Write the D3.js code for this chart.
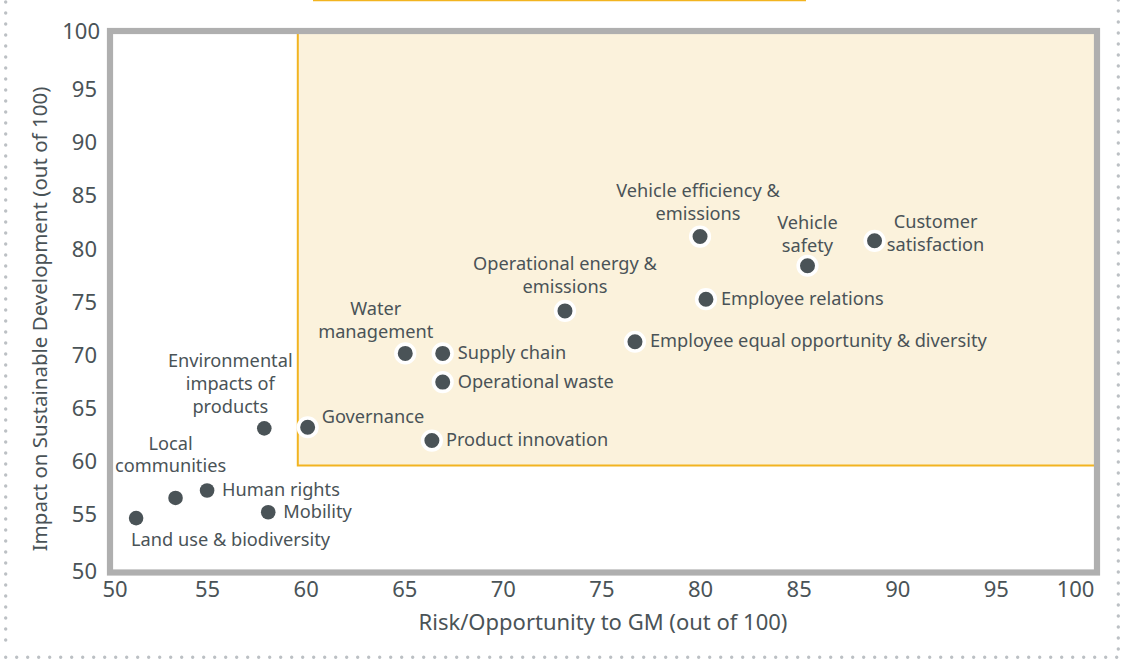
<!DOCTYPE html>
<html>
<head>
<meta charset="utf-8">
<script src="https://cdn.jsdelivr.net/npm/d3@7/dist/d3.min.js"></script>
<style>
  html, body { margin: 0; padding: 0; background: #ffffff; }
  svg { display: block; }
  text { font-family: "Noto Sans", "Open Sans", sans-serif; fill: #4a5357; }
</style>
</head>
<body>
<svg id="chart" width="1124" height="662"></svg>
<script>
// ---- data ----
const topics = [
  "Land use & biodiversity",
  "Local\ncommunities",
  "Human rights",
  "Mobility",
  "Environmental\nimpacts of\nproducts",
  "Governance",
  "Product innovation",
  "Operational waste",
  "Supply chain",
  "Water\nmanagement",
  "Operational energy &\nemissions",
  "Employee equal opportunity & diversity",
  "Employee relations",
  "Vehicle efficiency &\nemissions",
  "Vehicle\nsafety",
  "Customer\nsatisfaction"
];
const riskScores   = [51.4, 53.4, 55.0, 58.1, 57.9, 60.1, 66.4, 66.95, 66.95, 65.05, 73.15, 76.7, 80.3, 80.0, 85.45, 88.85];
const impactScores = [54.6, 56.5, 57.2, 55.15, 63.05, 63.15, 61.9, 67.4, 70.1, 70.1, 74.1, 71.2, 75.2, 81.1, 78.35, 80.7];
const xTicks = [50, 55, 60, 65, 70, 75, 80, 85, 90, 95, 100];
const yTicks = [50, 55, 60, 65, 70, 75, 80, 85, 90, 95, 100];
const highlightFrom = { risk: 59.6, impact: 59.55 };
const xTitle = "Risk/Opportunity to GM (out of 100)";
const yTitle = "Impact on Sustainable Development (out of 100)";

// ---- label placement (layout only) ----
const labelPlacement = [
  { anchor: "start",  dx: -5,  dy: 27.4 },
  { anchor: "middle", dx: -5,  dy: -48.4 },
  { anchor: "start",  dx: 15,  dy: 5.5 },
  { anchor: "start",  dx: 15,  dy: 5.8 },
  { anchor: "middle", dx: -34, dy: -61 },
  { anchor: "start",  dx: 14,  dy: -4.6 },
  { anchor: "start",  dx: 14,  dy: 5 },
  { anchor: "start",  dx: 15,  dy: 6 },
  { anchor: "start",  dx: 15,  dy: 5.7 },
  { anchor: "middle", dx: -29.5, dy: -38.3 },
  { anchor: "middle", dx: 0,   dy: -40.7 },
  { anchor: "start",  dx: 15,  dy: 5 },
  { anchor: "start",  dx: 15,  dy: 6 },
  { anchor: "middle", dx: -2,  dy: -39.4 },
  { anchor: "middle", dx: 0,   dy: -36.4 },
  { anchor: "middle", dx: 61,  dy: -12.4 }
];

const svg = d3.select("#chart");

const x = d3.scaleLinear().domain([50, 100]).range([108.5, 1094.4]);
const y = d3.scaleLinear().domain([50, 100]).range([567, 35.7]);

const colors = {
  frame: "#afafaf",
  fill: "#fbf2dc",
  orange: "#f2b420",
  dot: "#4a5357",
  dots: "#bcc0c4"
};

// decorative dotted page border
const dotted = svg.append("g")
  .attr("stroke", colors.dots)
  .attr("stroke-width", 3.4)
  .attr("stroke-linecap", "round")
  .attr("stroke-dasharray", "0 11");
dotted.append("line").attr("x1", 5.7).attr("y1", 2).attr("x2", 5.7).attr("y2", 645);
dotted.append("line").attr("x1", 1118.3).attr("y1", 0).attr("x2", 1118.3).attr("y2", 658);
dotted.append("line").attr("x1", 5.7).attr("y1", 657.3).attr("x2", 1118.3).attr("y2", 657.3);

// top partial orange rule
svg.append("line")
  .attr("x1", 313).attr("x2", 806).attr("y1", 0).attr("y2", 0)
  .attr("stroke", colors.orange).attr("stroke-width", 2.4);

// highlight region
const hx = x(highlightFrom.risk), hy = y(highlightFrom.impact);
svg.append("rect")
  .attr("x", hx).attr("y", y(100) - 3)
  .attr("width", x(100) - hx).attr("height", hy - y(100) + 3)
  .attr("fill", colors.fill);
svg.append("path")
  .attr("d", `M${hx},${y(100) - 3}V${hy}H${x(100)}`)
  .attr("fill", "none").attr("stroke", colors.orange).attr("stroke-width", 2);

// frame
svg.append("rect")
  .attr("x", 110).attr("y", 31)
  .attr("width", 1097 - 110).attr("height", 572.5 - 31)
  .attr("fill", "none").attr("stroke", colors.frame).attr("stroke-width", 6.2);

// x tick labels
const xAxis = d3.axisBottom(x).tickValues(xTicks).tickSize(0).tickPadding(0);
const gx = svg.append("g").attr("transform", "translate(0,580)").call(xAxis);
gx.select(".domain").remove();
gx.selectAll("text")
  .attr("y", 17).attr("dy", null)
  .style("font-size", "22px")
  .style("font-family", null)
  .attr("fill", null)
  .attr("dx", d => d === 50 ? 6 : 0)
  .attr("text-anchor", d => d === 100 ? "end" : "middle")
  .attr("x", d => d === 100 ? -0.5 : 0);

// y tick labels
const yAxis = d3.axisLeft(y).tickValues(yTicks).tickSize(0).tickPadding(0);
const gy = svg.append("g").attr("transform", "translate(97,0)").call(yAxis);
gy.select(".domain").remove();
gy.selectAll("text")
  .attr("x", d => d === 100 ? 3 : 0)
  .attr("dy", null)
  .attr("y", d => d === 100 ? 7.8 - 4.7 : d === 50 ? 7.8 + 3.5 : 7.8)
  .style("font-size", "22px")
  .style("font-family", null)
  .attr("fill", null)
  .attr("text-anchor", "end");

// axis titles
svg.append("text")
  .attr("x", 603).attr("y", 629.5)
  .attr("text-anchor", "middle")
  .style("font-size", "22px")
  .text(xTitle);
svg.append("text")
  .attr("transform", "translate(46.5,319) rotate(-90)")
  .attr("text-anchor", "middle")
  .style("font-size", "20.5px")
  .text(yTitle);

// points
const points = topics.map((t, i) => ({
  name: t, risk: riskScores[i], impact: impactScores[i], place: labelPlacement[i],
  inHighlight: riskScores[i] >= highlightFrom.risk && impactScores[i] >= highlightFrom.impact
}));

const gp = svg.append("g");
gp.selectAll("circle")
  .data(points)
  .join("circle")
  .attr("cx", d => x(d.risk))
  .attr("cy", d => y(d.impact))
  .attr("r", d => d.inHighlight ? 9.3 : 7.3)
  .attr("fill", colors.dot)
  .attr("stroke", d => d.inHighlight ? "#ffffff" : "none")
  .attr("stroke-width", 3.6);

// labels
const gl = svg.append("g").style("font-size", "18.2px");
points.forEach(d => {
  const t = gl.append("text")
    .attr("text-anchor", d.place.anchor)
    .attr("x", x(d.risk) + d.place.dx)
    .attr("y", y(d.impact) + d.place.dy);
  d.name.split("\n").forEach((line, j) => {
    t.append("tspan")
      .attr("x", x(d.risk) + d.place.dx)
      .attr("dy", j === 0 ? 0 : 22.7)
      .text(line);
  });
});
</script>
</body>
</html>
